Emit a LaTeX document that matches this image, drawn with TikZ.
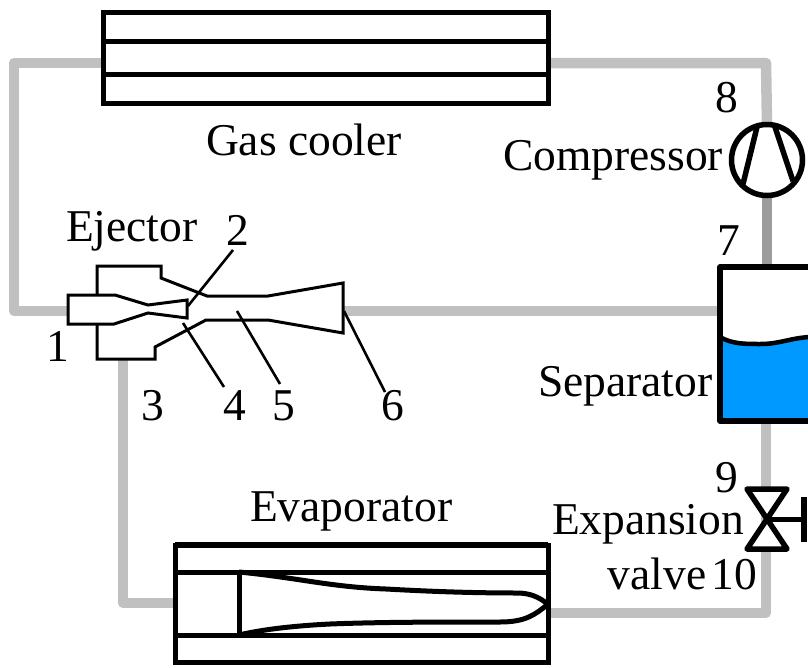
\documentclass[tikz,border=0pt]{standalone}
\usepackage{fontspec}
\setmainfont{Liberation Serif}
\definecolor{pipe}{HTML}{C0C0C0}
\definecolor{pipedark}{HTML}{9C9C9C}
\definecolor{water}{HTML}{0099FF}
\tikzset{
  pipeline/.style={draw=pipe,line width=10.5pt,line join=round},
  outline/.style={draw=black,line width=5pt,line join=round},
  thinline/.style={draw=black,line width=3pt,line join=miter},
  leader/.style={draw=black,line width=2.6pt},
  lbl/.style={font=\fontsize{45.5}{45.5}\selectfont,inner sep=0pt,outer sep=0pt,text=black},
  unitbox/.style={draw=black,line width=5pt,fill=white,inner sep=0pt,outer sep=0pt,anchor=north west}
}
\begin{document}
\begin{tikzpicture}[x=1pt,y=-1pt]
\useasboundingbox (0,0) rectangle (808,667);
\clip (0,0) rectangle (808,667);
% anchors for connectors
\coordinate (gcL) at (103,63);
\coordinate (gcR) at (548,63);
\coordinate (c1) at (14,63);
\coordinate (c2) at (14,311);
\coordinate (ejIn) at (68,311);
\coordinate (ejOut) at (344,311);
\coordinate (sepIn) at (720,311);
\coordinate (c3) at (766,63);
\coordinate (compTop) at (767,125);
\coordinate (compBot) at (767,197);
\coordinate (sepTop) at (767,267);
\coordinate (sepBot) at (766,421);
\coordinate (c4) at (766,613);
\coordinate (evR) at (548,613);
\coordinate (evL) at (175,603);
\coordinate (c5) at (123,603);
\coordinate (ejS) at (123,359);
% pipes
\draw[pipeline] (gcL) -- (c1) -- (c2) -- (ejIn);
\draw[pipeline] (ejOut) -- (sepIn);
\draw[pipeline] (gcR) -- (c3) -- (compTop);
\draw[pipeline,draw=pipedark] (compBot) -- (sepTop);
\draw[pipeline] (sepBot) -- (c4) -- (evR);
\draw[pipeline] (evL) -- (c5) -- (ejS);
% gas cooler
\node[unitbox,minimum width=445pt,minimum height=91pt] (gascooler) at (103,12) {};
\draw[outline] (103,41) -- (548,41);
\draw[outline] (103,74) -- (548,74);
% compressor
\node[circle,draw=black,line width=5.5pt,fill=white,minimum size=71pt,inner sep=0pt,outer sep=0pt] (comp) at (767,160) {};
\draw[draw=black,line width=5.5pt] (757,127) -- (743,184);
\draw[draw=black,line width=5.5pt] (775,127) -- (793,181);
% separator
\fill[water] (720,338) .. controls (732,344) and (745,344) .. (760,344)
  .. controls (780,344) and (790,338) .. (810,337) -- (810,421) -- (720,421) -- cycle;
\draw[outline,line width=5.5pt] (810,267) -- (720,267) -- (720,421) -- (810,421);
\draw[outline,line width=4.5pt] (720,337) .. controls (732,344) and (745,344) .. (760,344)
  .. controls (780,344) and (790,338) .. (810,337);
% ejector
\draw[thinline,fill=white] (97,300) -- (97,266) -- (161,266) -- (161,278) -- (207,296) -- (268,296)
  -- (343,283) -- (343,333) -- (268,320) -- (206,320) -- (155,347) -- (155,359) -- (97,359) -- (97,320) -- cycle;
\fill[white] (99,298) rectangle (120,322);
\draw[thinline,fill=white] (68,295) -- (115,295) -- (148,305) -- (187,300) -- (187,318) -- (148,313) -- (114,324) -- (68,324) -- cycle;
% leaders
\coordinate (l2) at (233,250); \coordinate (l2e) at (188,306);
\coordinate (l4) at (224,387); \coordinate (l4e) at (183,323);
\coordinate (l5) at (280,384); \coordinate (l5e) at (237,311);
\coordinate (l6) at (385,392); \coordinate (l6e) at (344,311);
\draw[leader] (l2) -- (l2e);
\draw[leader] (l4) -- (l4e);
\draw[leader] (l5) -- (l5e);
\draw[leader] (l6) -- (l6e);
% evaporator
\node[unitbox,minimum width=373pt,minimum height=117pt] (evap) at (175,545) {};
\draw[outline,line width=6pt] (175,545) -- (548,545);
\draw[outline] (175,572) -- (548,572);
\draw[outline] (175,635) -- (548,635);
\draw[outline] (239,572) -- (239,635);
\draw[outline] (239,572) .. controls (300,578) and (330,587) .. (386,589)
  .. controls (440,592) and (480,593) .. (520,593) .. controls (535,594) and (542,600) .. (548,604)
  .. controls (535,615) and (525,622) .. (500,622) .. controls (440,622) and (380,622) .. (330,624)
  .. controls (290,626) and (260,630) .. (239,635);
% valve
\fill[white] (747,489) -- (787,489) -- (747,549) -- (787,549) -- cycle;
\draw[outline,line width=5.5pt] (747,489) -- (787,489) -- (747,549) -- (787,549) -- cycle;
\draw[outline] (767,519) -- (804,519);
\draw[outline,line width=5.5pt] (804,497) -- (804,542);
% labels
\node[lbl,anchor=base west] (tgc) at (206,155) {Gas cooler};
\node[lbl,anchor=base west] (tco) at (503,170) {Compressor};
\node[lbl,anchor=base west] (tej) at (66,241) {Ejector};
\node[lbl,anchor=base west] (tse) at (538,396) {Separator};
\node[lbl,anchor=base west] (tev) at (250,521) {Evaporator};
\node[lbl,anchor=base west] (tex) at (552,534) {Expansion};
\node[lbl,anchor=base east] (tva) at (757,589) {\spaceskip=5pt valve 10};
\node[lbl,anchor=base] (n8) at (727,112) {8};
\node[lbl,anchor=base] (n7) at (729,255) {7};
\node[lbl,anchor=base] (n2) at (238,245) {2};
\node[lbl,anchor=base] (n1) at (58,361) {1};
\node[lbl,anchor=base] (n3) at (153,420) {3};
\node[lbl,anchor=base] (n4) at (235,420) {4};
\node[lbl,anchor=base] (n5) at (284,420) {5};
\node[lbl,anchor=base] (n6) at (393,420) {6};
\node[lbl,anchor=base] (n9) at (727,492) {9};
\end{tikzpicture}
\end{document}
